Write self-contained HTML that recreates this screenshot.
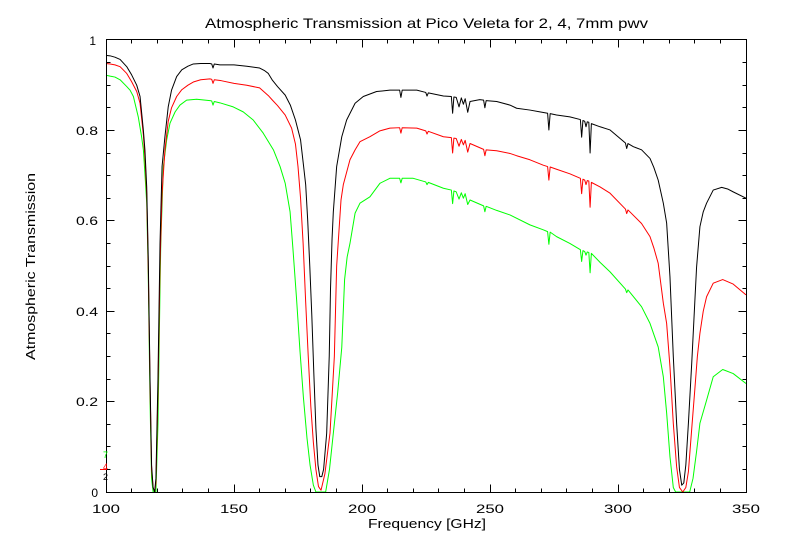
<!DOCTYPE html>
<html>
<head>
<meta charset="utf-8">
<style>
html,body{margin:0;padding:0;background:#fff;}
svg{display:block;}
text{font-family:"Liberation Sans",sans-serif;fill:#000;}
</style>
</head>
<body>
<svg width="800" height="560" viewBox="0 0 800 560" xmlns="http://www.w3.org/2000/svg">
<rect x="0" y="0" width="800" height="560" fill="#fff"/>

<g transform="matrix(2.56 0 0 -452 -150 492)" fill="none" stroke-width="1" stroke-linejoin="round">
<!-- green : 7mm -->
<polyline vector-effect="non-scaling-stroke" stroke="#00ff00" points="
100,.922 101.6,.920 103.5,.918 105.5,.912 108.1,.897 109.4,.889 110.7,.875 112.6,.83 113.9,.786 114.6,.757 115.2,.705 115.9,.64 116.5,.48 117.2,.20 117.8,.03 118.4,0 119.5,0 120.3,.15 121.1,.45 121.4,.55 122.4,.72 123.7,.779 125,.816 127,.841 128.9,.856 131.5,.867 135.4,.869 140.6,.866 141.3,.865 141.8,.856 142.3,.864 144.5,.861 149.7,.852 153.6,.841 157.5,.823 161.4,.794 165.4,.757 168,.72 170,.683 171.9,.62 173,.54 174.4,.43 175.8,.31 177.1,.21 178.5,.12 179.7,.06 181,.015 182,0 185.8,0 187.3,.05 188.8,.13 190.5,.22 192.1,.32 193.2,.47 194.2,.52 195.3,.55 197.3,.617 199.2,.639 203.1,.653 207,.683 210.9,.694 214.7,.694 215.2,.684 215.7,.694 220,.694 224.9,.686 225.4,.680 225.9,.685 231.8,.672 234.9,.668 235.4,.638 235.9,.666 236.8,.664 237.9,.648 238.8,.662 239.6,.650 240.3,.660 241.3,.636 242.2,.646 247.5,.633 248,.620 248.5,.632 252.6,.623 257.8,.613 265.6,.591 270.8,.580 272.5,.576 273,.548 273.5,.575 276,.565 281.2,.550 285.3,.536 285.8,.510 286.3,.534 287,.532 287.5,.524 288,.531 288.6,.530 289.1,.485 289.6,.528 293,.508 296.9,.487 302.9,.449 303.4,.441 303.9,.447 309.2,.41 312.5,.373 315.7,.321 317.7,.255 319,.175 320.3,.078 321.6,.01 322.5,0 328,0 329.3,.03 330.7,.09 332,.152 334.6,.203 337.2,.255 340.9,.271 345,.262 350,.240"/>
<!-- red : 4mm -->
<polyline vector-effect="non-scaling-stroke" stroke="#ff0000" points="
100,.948 101.6,.947 103.5,.945 105.5,.941 108.1,.926 110,.908 112,.886 113.3,.860 114.6,.79 115.2,.74 115.9,.66 116.5,.50 117.2,.24 117.8,.05 118.4,.01 119,0 119.5,.02 120.3,.22 121.1,.50 121.9,.66 123,.755 124.3,.82 125.6,.85 127.6,.875 129.6,.89 132,.90 134.1,.907 137,.912 140.6,.914 141.3,.913 141.8,.904 142.3,.912 145,.910 150,.904 155,.90 160,.894 163.4,.877 165,.867 167,.855 170,.834 172.5,.805 174,.77 175,.72 176,.65 177,.55 178,.42 179,.30 180,.19 181,.11 182,.05 183,.012 184,.004 185.5,.04 187.5,.13 189.2,.30 190.1,.50 191.8,.646 192.7,.68 195.3,.735 197.3,.757 199.2,.775 203.1,.786 207,.799 210.9,.805 214.7,.806 215.2,.794 215.7,.806 221.4,.805 224.9,.799 225.4,.792 225.9,.798 231.8,.786 234.9,.784 235.4,.750 235.9,.783 236.8,.782 237.9,.765 238.8,.780 239.6,.768 240.3,.778 241.3,.752 242.2,.771 247.5,.758 248,.744 248.5,.757 252.6,.755 257.8,.749 260.4,.744 265.6,.735 270.8,.723 272.5,.720 273,.690 273.5,.719 276,.714 281.2,.704 285.3,.694 285.8,.660 286.3,.692 287,.690 287.5,.680 288,.689 288.6,.688 289.1,.630 289.6,.685 293,.675 296.9,.661 302.9,.626 303.4,.616 303.9,.624 309.2,.594 312.5,.565 314,.540 315.7,.506 317.7,.418 319,.373 320.3,.277 321.6,.152 322.9,.056 324,.01 325.3,0 326.5,.01 327.5,.045 328.8,.14 330,.226 331,.30 332,.351 333.3,.40 334.6,.432 337.2,.462 340.9,.470 345,.460 350,.436"/>
<!-- black : 2mm -->
<polyline vector-effect="non-scaling-stroke" stroke="#000000" points="
100,.966 101.6,.965 103.5,.962 105.5,.957 108.1,.941 110,.923 112,.900 113.3,.875 114.6,.80 115.2,.757 115.9,.675 116.5,.52 117.2,.25 117.8,.06 118.4,.01 119,0 119.5,.03 120.3,.25 121.1,.55 121.9,.72 123,.785 124.3,.852 125.6,.889 127.6,.919 129.6,.934 132,.942 134.1,.947 137,.948 140.6,.948 141.3,.947 141.8,.938 142.3,.947 144.5,.945 150,.945 155,.942 160,.938 162,.932 163.4,.926 165,.911 167,.897 170,.878 172,.856 174,.823 176,.779 177.2,.72 178,.68 178.8,.60 179.6,.50 180.4,.39 181.2,.26 182,.14 182.8,.06 183.5,.034 184.3,.034 185,.05 186.2,.13 187.2,.30 187.7,.45 188.3,.56 188.8,.62 190.1,.72 192.1,.786 194,.823 197.3,.860 200.5,.875 205.7,.886 210.9,.889 214.7,.889 215.2,.873 215.7,.889 221.4,.889 224.9,.884 225.4,.876 225.9,.883 231.8,.876 234.9,.875 235.4,.838 235.9,.874 236.8,.873 237.9,.852 238.8,.872 239.6,.858 240.3,.870 241.3,.840 242.2,.864 246,.868 247.5,.867 248,.850 248.5,.866 252.6,.864 257.8,.856 260.4,.849 265.6,.845 269.5,.841 272.5,.838 273,.801 273.5,.837 276,.834 281.2,.830 285.3,.824 285.8,.785 286.3,.822 287,.820 287.5,.808 288,.819 288.6,.818 289.1,.750 289.6,.815 293,.808 296.9,.801 302.9,.772 303.4,.760 303.9,.771 306,.764 309.2,.757 312.5,.738 314,.718 315.7,.690 317.7,.639 319,.595 320.3,.476 321.6,.30 322.9,.152 324,.05 324.9,.015 325.7,.02 326.5,.06 327.5,.152 328.8,.285 330,.42 330.7,.498 332,.587 333.3,.62 334.6,.639 337.2,.668 340.5,.674 343,.670 345,.664 350,.650"/>
</g>

<!-- axes box and ticks -->
<g stroke="#000" stroke-width="1" fill="none" shape-rendering="crispEdges">
<rect x="106.5" y="39.5" width="640" height="453"/>
<path d="
M234.5,492.5V484.5 M362.5,492.5V484.5 M490.5,492.5V484.5 M618.5,492.5V484.5
M234.5,39.5V47.5 M362.5,39.5V47.5 M490.5,39.5V47.5 M618.5,39.5V47.5
M131.5,492.5V488.5 M157.5,492.5V488.5 M182.5,492.5V488.5 M208.5,492.5V488.5
M259.5,492.5V488.5 M285.5,492.5V488.5 M310.5,492.5V488.5 M336.5,492.5V488.5
M387.5,492.5V488.5 M413.5,492.5V488.5 M438.5,492.5V488.5 M464.5,492.5V488.5
M515.5,492.5V488.5 M541.5,492.5V488.5 M566.5,492.5V488.5 M592.5,492.5V488.5
M643.5,492.5V488.5 M669.5,492.5V488.5 M694.5,492.5V488.5 M720.5,492.5V488.5
M131.5,39.5V43.5 M157.5,39.5V43.5 M182.5,39.5V43.5 M208.5,39.5V43.5
M259.5,39.5V43.5 M285.5,39.5V43.5 M310.5,39.5V43.5 M336.5,39.5V43.5
M387.5,39.5V43.5 M413.5,39.5V43.5 M438.5,39.5V43.5 M464.5,39.5V43.5
M515.5,39.5V43.5 M541.5,39.5V43.5 M566.5,39.5V43.5 M592.5,39.5V43.5
M643.5,39.5V43.5 M669.5,39.5V43.5 M694.5,39.5V43.5 M720.5,39.5V43.5
M106.5,401.5H114.5 M106.5,311.5H114.5 M106.5,220.5H114.5 M106.5,130.5H114.5
M746.5,401.5H738.5 M746.5,311.5H738.5 M746.5,220.5H738.5 M746.5,130.5H738.5
M106.5,469.5H110.5 M106.5,446.5H110.5 M106.5,424.5H110.5 M106.5,379.5H110.5
M106.5,356.5H110.5 M106.5,333.5H110.5 M106.5,288.5H110.5 M106.5,266.5H110.5
M106.5,243.5H110.5 M106.5,198.5H110.5 M106.5,175.5H110.5 M106.5,153.5H110.5
M106.5,107.5H110.5 M106.5,85.5H110.5 M106.5,62.5H110.5
M746.5,469.5H742.5 M746.5,446.5H742.5 M746.5,424.5H742.5 M746.5,379.5H742.5
M746.5,356.5H742.5 M746.5,333.5H742.5 M746.5,288.5H742.5 M746.5,266.5H742.5
M746.5,243.5H742.5 M746.5,198.5H742.5 M746.5,175.5H742.5 M746.5,153.5H742.5
M746.5,107.5H742.5 M746.5,85.5H742.5 M746.5,62.5H742.5"/>
</g>

<!-- title -->
<text x="205" y="28" font-size="14" textLength="443" lengthAdjust="spacingAndGlyphs">Atmospheric Transmission at Pico Veleta for 2, 4, 7mm pwv</text>

<!-- x tick labels -->
<g font-size="12" text-anchor="middle">
<text x="106" y="513" textLength="28" lengthAdjust="spacingAndGlyphs">100</text>
<text x="234" y="513" textLength="28" lengthAdjust="spacingAndGlyphs">150</text>
<text x="362" y="513" textLength="28" lengthAdjust="spacingAndGlyphs">200</text>
<text x="490" y="513" textLength="28" lengthAdjust="spacingAndGlyphs">250</text>
<text x="618" y="513" textLength="28" lengthAdjust="spacingAndGlyphs">300</text>
<text x="746" y="513" textLength="28" lengthAdjust="spacingAndGlyphs">350</text>
</g>
<text x="368" y="528" font-size="13" textLength="118" lengthAdjust="spacingAndGlyphs">Frequency [GHz]</text>

<!-- y tick labels -->
<g font-size="12" text-anchor="end">
<text x="98" y="497">0</text>
<text x="98" y="406" textLength="22" lengthAdjust="spacingAndGlyphs">0.2</text>
<text x="98" y="316" textLength="22" lengthAdjust="spacingAndGlyphs">0.4</text>
<text x="98" y="225" textLength="22" lengthAdjust="spacingAndGlyphs">0.6</text>
<text x="98" y="135" textLength="22" lengthAdjust="spacingAndGlyphs">0.8</text>
<text x="96" y="45">1</text>
</g>
<text transform="translate(35,360) rotate(-90)" font-size="13" textLength="187" lengthAdjust="spacingAndGlyphs">Atmospheric Transmission</text>

<!-- tiny pwv markers at left axis -->
<text x="103" y="458" font-size="9" style="fill:#00ff00">7</text>
<text x="103" y="470" font-size="9" style="fill:#ff0000">4</text>
<line x1="100" y1="469.5" x2="107" y2="469.5" stroke="#ff0000" stroke-width="1"/>
<text x="103" y="480" font-size="9">2</text>
</svg>
</body>
</html>
